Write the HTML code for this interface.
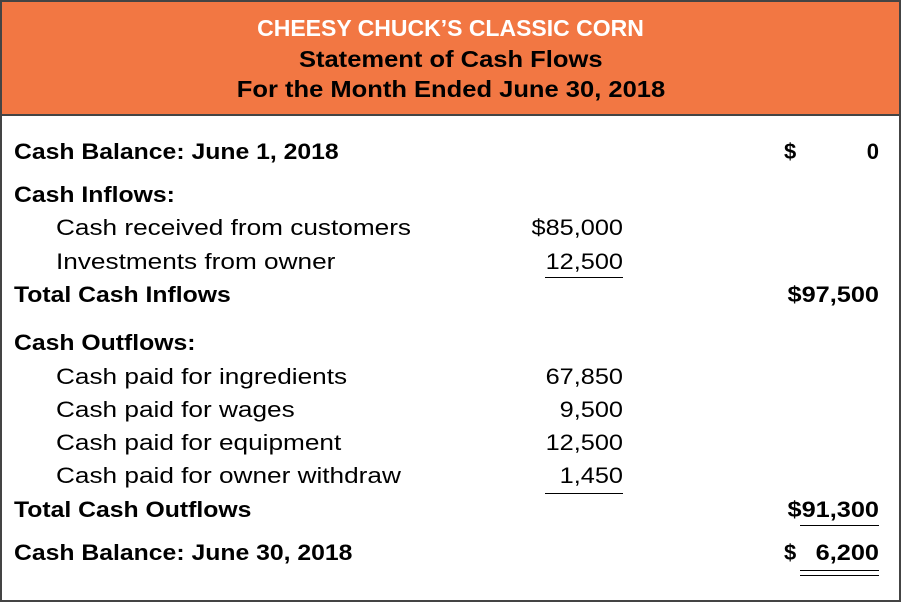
<!DOCTYPE html>
<html><head><meta charset="utf-8"><style>
html,body{margin:0;padding:0;background:#fff}
#wrap{position:relative;width:897px;height:598px;border:2px solid #444;overflow:hidden;font-family:"Liberation Sans",sans-serif;color:#000}
#hdr{position:absolute;left:0;top:0;width:897px;height:112px;background:#F27743;border-bottom:2px solid #444}
.h{position:absolute;left:0;width:897px;text-align:center;font-weight:bold;font-size:23px;line-height:28px}
.hs{display:inline-block;transform:scaleX(1.11)}
.t{position:absolute;font-size:22px;line-height:26px;white-space:nowrap}
.b{font-weight:bold}
.r{text-align:right}
.sl{transform:scaleX(1.19);transform-origin:left center}
.slb{transform:scaleX(1.125);transform-origin:left center}
.sr{transform:scaleX(1.15);transform-origin:right center}
.ul{position:absolute;height:0;border-top:1.5px solid #000}
</style></head><body>
<div id="wrap">
<div id="hdr">
<div class="h" style="top:12px;color:#fff">CHEESY CHUCK’S CLASSIC CORN</div>
<div class="h" style="top:43px"><span class="hs">Statement of Cash Flows</span></div>
<div class="h" style="top:73px"><span class="hs">For the Month Ended June 30, 2018</span></div>
</div>

<div class="t b slb" style="left:12px;top:137px">Cash Balance: June 1, 2018</div>
<div class="t b" style="left:782px;top:137px">$</div>
<div class="t b r" style="left:777px;width:100px;top:137px">0</div>

<div class="t b slb" style="left:12px;top:180px">Cash Inflows:</div>
<div class="t sl" style="left:54px;top:213px">Cash received from customers</div>
<div class="t r sr" style="left:471px;width:150px;top:213px">$85,000</div>
<div class="t sl" style="left:54px;top:247px">Investments from owner</div>
<div class="t r sr" style="left:471px;width:150px;top:247px">12,500</div>
<div class="ul" style="left:543px;width:78px;top:275px"></div>
<div class="t b slb" style="left:12px;top:280px">Total Cash Inflows</div>
<div class="t b r sr" style="left:727px;width:150px;top:280px">$97,500</div>

<div class="t b slb" style="left:12px;top:328px">Cash Outflows:</div>
<div class="t sl" style="left:54px;top:362px">Cash paid for ingredients</div>
<div class="t r sr" style="left:471px;width:150px;top:362px">67,850</div>
<div class="t sl" style="left:54px;top:395px">Cash paid for wages</div>
<div class="t r sr" style="left:471px;width:150px;top:395px">9,500</div>
<div class="t sl" style="left:54px;top:428px">Cash paid for equipment</div>
<div class="t r sr" style="left:471px;width:150px;top:428px">12,500</div>
<div class="t sl" style="left:54px;top:461px">Cash paid for owner withdraw</div>
<div class="t r sr" style="left:471px;width:150px;top:461px">1,450</div>
<div class="ul" style="left:543px;width:78px;top:491px"></div>
<div class="t b slb" style="left:12px;top:495px">Total Cash Outflows</div>
<div class="t b r sr" style="left:727px;width:150px;top:495px">$91,300</div>
<div class="ul" style="left:798px;width:79px;top:523px"></div>

<div class="t b slb" style="left:12px;top:538px">Cash Balance: June 30, 2018</div>
<div class="t b" style="left:782px;top:538px">$</div>
<div class="t b r sr" style="left:727px;width:150px;top:538px">6,200</div>
<div class="ul" style="left:798px;width:79px;top:568px"></div>
<div class="ul" style="left:798px;width:79px;top:573px"></div>
</div>
</body></html>
